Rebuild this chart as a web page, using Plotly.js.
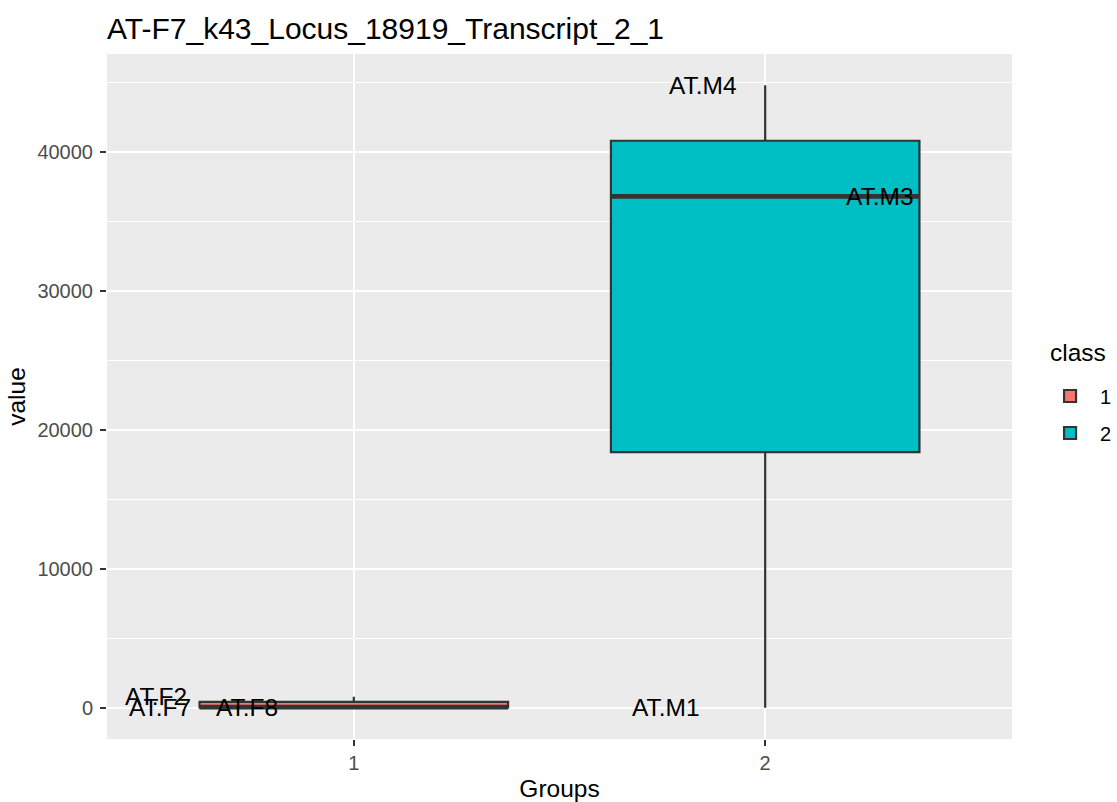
<!DOCTYPE html>
<html>
<head>
<meta charset="utf-8">
<script src="https://cdn.plot.ly/plotly-3.0.1.min.js"></script>
<style>html,body{margin:0;padding:0;background:#fff;}#chart{width:1117px;height:802px;}</style>
</head>
<body>
<div id="chart"></div>
<script>
// ---- data ----
const chartTitle = "AT-F7_k43_Locus_18919_Transcript_2_1";
const classes = [1, 2];
const classColors = ["#F8766D", "#00BFC4"];
const sampleNames = ["AT.F2", "AT.F7", "AT.F8", "AT.M1", "AT.M3", "AT.M4"];
const sampleClass = [1, 1, 1, 2, 2, 2];
const sampleValue = [810, 60, 20, 10, 36800, 44800];
// jittered horizontal positions of the text labels
const labelX = [0.52, 0.53, 0.74, 1.76, 2.28, 1.85];
const yTicks = [0, 10000, 20000, 30000, 40000];
const yTickText = ["0", "10000", "20000", "30000", "40000"];
const yMinor = [5000, 15000, 25000, 35000, 45000];
const xTicks = [1, 2];
const xTickText = ["1", "2"];

// ---- helpers ----
function quantile7(arr, p) {
  const s = [...arr].sort((a, b) => a - b);
  const h = (s.length - 1) * p;
  const lo = Math.floor(h);
  const hi = Math.min(lo + 1, s.length - 1);
  return s[lo] + (h - lo) * (s[hi] - s[lo]);
}
const FONT = "Liberation Sans, Arial, Helvetica, sans-serif";
const boxWidth = 0.75;
const traces = [];
const medianTraces = [];
classes.forEach((c, i) => {
  const vals = sampleValue.filter((v, j) => sampleClass[j] === c);
  const q1 = quantile7(vals, 0.25), med = quantile7(vals, 0.5), q3 = quantile7(vals, 0.75);
  const iqr = q3 - q1;
  const up = Math.max(...vals.filter(v => v <= q3 + 1.5 * iqr));
  const lo = Math.min(...vals.filter(v => v >= q1 - 1.5 * iqr));
  traces.push({
    type: "box", name: String(c), x: [c], legendgroup: "g" + c,
    q1: [q1], median: [med], q3: [q3], lowerfence: [lo], upperfence: [up],
    width: boxWidth, fillcolor: classColors[i],
    line: {color: "#333333", width: 2.2}, whiskerwidth: 0,
    boxpoints: false, hoverinfo: "skip", showlegend: true
  });
  medianTraces.push({
    type: "scatter", mode: "lines", x: [c - boxWidth / 2, c + boxWidth / 2], y: [med, med],
    line: {color: "#333333", width: 4.6}, showlegend: false, hoverinfo: "skip"
  });
});
const vmin = Math.min(...sampleValue), vmax = Math.max(...sampleValue);
const pad = (vmax - vmin) * 0.05;

const labelAnnotations = sampleNames.map((name, i) => ({
  x: labelX[i], y: sampleValue[i], xref: "x", yref: "y", text: name, showarrow: false,
  xanchor: "center", yanchor: "middle", yshift: 0,
  font: {family: FONT, size: 24.5, color: "#000"}
}));
const legendTitle = {
  x: (1048 - 107) / 905, xref: "paper", xanchor: "left", showarrow: false, text: "class",
  yref: "paper", y: (739 - 352) / 685, yanchor: "middle",
  font: {family: FONT, size: 24.5, color: "#000"}
};

const layout = {
  width: 1117, height: 802,
  paper_bgcolor: "#ffffff", plot_bgcolor: "#EBEBEB",
  margin: {l: 107, r: 105, t: 54, b: 63, pad: 0, autoexpand: false},
  boxmode: "overlay",
  font: {family: FONT, color: "#000"},
  title: {text: chartTitle, x: 0, xref: "paper", xanchor: "left",
          y: 1 - 28 / 802, yref: "container", yanchor: "middle",
          font: {family: FONT, size: 30, color: "#000"}},
  xaxis: {range: [0.4, 2.6], tickvals: xTicks, ticktext: xTickText, showgrid: true,
          gridcolor: "#ffffff", gridwidth: 2.4, zeroline: false, showline: false,
          ticks: "outside", ticklen: 6, tickwidth: 2.2, tickcolor: "#333333",
          tickfont: {family: FONT, size: 20, color: "#4D4D4D"}, automargin: false,
          title: {text: "Groups", font: {family: FONT, size: 24.5, color: "#000"}, standoff: 8}},
  yaxis: {range: [vmin - pad, vmax + pad], tickvals: yTicks, ticktext: yTickText, showgrid: true,
          gridcolor: "#ffffff", gridwidth: 2.4, zeroline: false, showline: false,
          ticks: "outside", ticklen: 6, tickwidth: 2.2, tickcolor: "#333333",
          ticklabelstandoff: 3,
          tickfont: {family: FONT, size: 20, color: "#4D4D4D"}, automargin: false,
          minor: {tickvals: yMinor, showgrid: true, gridcolor: "#ffffff", gridwidth: 1.2, ticks: ""},
          title: {text: "value", font: {family: FONT, size: 24.5, color: "#000"}, standoff: 4}},
  legend: {x: 1.031, xanchor: "left", y: (739 - 414.5) / 685, yanchor: "middle",
           font: {family: FONT, size: 20, color: "#000"}, bgcolor: "rgba(0,0,0,0)",
           traceorder: "grouped", tracegroupgap: 8, itemwidth: 50},
  annotations: labelAnnotations.concat([legendTitle]),
  showlegend: true
};

Plotly.newPlot("chart", traces.concat(medianTraces), layout, {displayModeBar: false, staticPlot: true});
</script>
</body>
</html>
